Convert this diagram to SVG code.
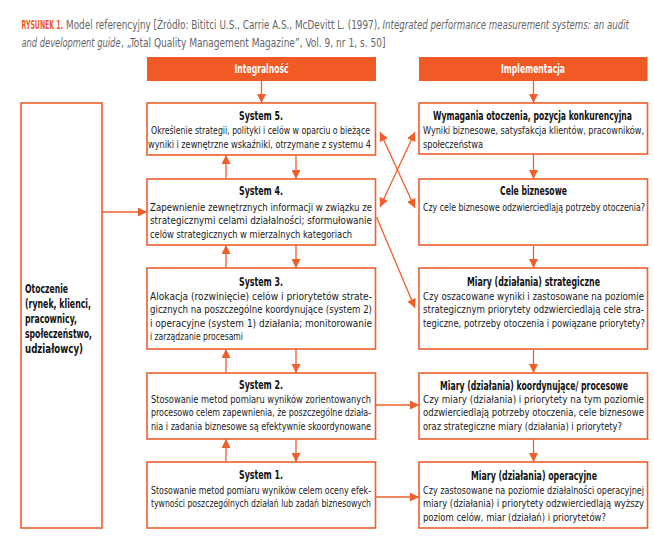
<svg xmlns="http://www.w3.org/2000/svg" width="654" height="553" viewBox="0 0 654 553">
<style>
text{font-family:"Liberation Sans Narrow","DejaVu Sans Condensed","Liberation Sans",sans-serif;}
.box{fill:#fff;stroke:#EE5F2B;stroke-width:1.6;}
.hdr{fill:#F15A24;}
.ht{fill:#fff;font-size:11.5px;font-weight:bold;text-anchor:middle;}
.t{fill:#111;font-size:12px;font-weight:bold;}
.b{fill:#1a1a1a;font-size:11px;}
.cap{fill:#666;font-size:11.5px;}
.capr{fill:#F05A28;font-size:11.5px;font-weight:bold;}
.it{font-style:italic;}
.ln{stroke:#EE5F2B;stroke-width:1.3;fill:none;}
</style>
<defs>
<marker id="ah" markerUnits="userSpaceOnUse" markerWidth="9" markerHeight="9" refX="8" refY="4" orient="auto-start-reverse" viewBox="0 0 8 8">
<path d="M0,0 L8,4 L0,8 z" fill="#EE5F2B"/>
</marker>
</defs>
<rect width="654" height="553" fill="#fff"/>

<g id="caption">
<text class="capr" x="21.5" y="29" textLength="41.5" lengthAdjust="spacingAndGlyphs">RYSUNEK 1.</text>
<text class="cap" x="66" y="29" textLength="314" lengthAdjust="spacingAndGlyphs">Model referencyjny [Źródło: Bititci U.S., Carrie A.S., McDevitt L. (1997),</text>
<text class="cap it" x="382.5" y="29" textLength="246.5" lengthAdjust="spacingAndGlyphs">Integrated performance measurement systems: an audit</text>
<text class="cap it" x="21.5" y="47" textLength="99" lengthAdjust="spacingAndGlyphs">and development guide</text>
<text class="cap" x="121" y="47" textLength="264.5" lengthAdjust="spacingAndGlyphs">, „Total Quality Management Magazine”, Vol. 9, nr 1, s. 50]</text>
</g>

<g id="hdr-integralnosc">
<rect class="hdr" x="147" y="57" width="229" height="24"/>
<text class="ht" x="261.5" y="73" textLength="54" lengthAdjust="spacingAndGlyphs">Integralność</text>
</g>
<g id="hdr-implementacja">
<rect class="hdr" x="419" y="57" width="228.5" height="24"/>
<text class="ht" x="533" y="73" textLength="64" lengthAdjust="spacingAndGlyphs">Implementacja</text>
</g>

<g id="otoczenie">
<rect class="box" x="21" y="103" width="81" height="425"/>
<text class="t" x="25" y="292.5" textLength="43" lengthAdjust="spacingAndGlyphs">Otoczenie</text>
<text class="t" x="25" y="307.5" textLength="66" lengthAdjust="spacingAndGlyphs">(rynek, klienci,</text>
<text class="t" x="25" y="322.5" textLength="52" lengthAdjust="spacingAndGlyphs">pracownicy,</text>
<text class="t" x="25" y="337.5" textLength="67" lengthAdjust="spacingAndGlyphs">społeczeństwo,</text>
<text class="t" x="25" y="352.5" textLength="58" lengthAdjust="spacingAndGlyphs">udziałowcy)</text>
</g>

<g id="system5">
<rect class="box" x="147" y="103" width="228.5" height="52"/>
<text class="t" x="239" y="119.5" textLength="44" lengthAdjust="spacingAndGlyphs">System 5.</text>
<text class="b" x="151" y="134" textLength="219" lengthAdjust="spacingAndGlyphs">Określenie strategii, polityki i celów w oparciu o bieżące</text>
<text class="b" x="148" y="147.5" textLength="223" lengthAdjust="spacingAndGlyphs">wyniki i zewnętrzne wskaźniki, otrzymane z systemu 4</text>
</g>

<g id="system4">
<rect class="box" x="147" y="179" width="228.5" height="66"/>
<text class="t" x="239" y="194.5" textLength="44" lengthAdjust="spacingAndGlyphs">System 4.</text>
<text class="b" x="150" y="211" textLength="222" lengthAdjust="spacingAndGlyphs">Zapewnienie zewnętrznych informacji w związku ze</text>
<text class="b" x="150" y="224" textLength="222" lengthAdjust="spacingAndGlyphs">strategicznymi celami działalności; sformułowanie</text>
<text class="b" x="150" y="237.5" textLength="202" lengthAdjust="spacingAndGlyphs">celów strategicznych w mierzalnych kategoriach</text>
</g>

<g id="system3">
<rect class="box" x="147" y="268" width="228.5" height="81"/>
<text class="t" x="239" y="286" textLength="44" lengthAdjust="spacingAndGlyphs">System 3.</text>
<text class="b" x="150" y="299.5" textLength="222" lengthAdjust="spacingAndGlyphs">Alokacja (rozwinięcie) celów i priorytetów strate-</text>
<text class="b" x="150" y="313" textLength="222" lengthAdjust="spacingAndGlyphs">gicznych na poszczególne koordynujące (system 2)</text>
<text class="b" x="150" y="326.5" textLength="222" lengthAdjust="spacingAndGlyphs">i operacyjne (system 1) działania; monitorowanie</text>
<text class="b" x="150" y="340" textLength="93" lengthAdjust="spacingAndGlyphs">i zarządzanie procesami</text>
</g>

<g id="system2">
<rect class="box" x="147" y="373" width="228.5" height="66"/>
<text class="t" x="239" y="388.5" textLength="44" lengthAdjust="spacingAndGlyphs">System 2.</text>
<text class="b" x="151" y="402.5" textLength="220" lengthAdjust="spacingAndGlyphs">Stosowanie metod pomiaru wyników zorientowanych</text>
<text class="b" x="151" y="416" textLength="220" lengthAdjust="spacingAndGlyphs">procesowo celem zapewnienia, że poszczególne działa-</text>
<text class="b" x="151" y="429.5" textLength="220" lengthAdjust="spacingAndGlyphs">nia i zadania biznesowe są efektywnie skoordynowane</text>
</g>

<g id="system1">
<rect class="box" x="147" y="462" width="228.5" height="66"/>
<text class="t" x="239" y="479" textLength="44" lengthAdjust="spacingAndGlyphs">System 1.</text>
<text class="b" x="151" y="493.5" textLength="220" lengthAdjust="spacingAndGlyphs">Stosowanie metod pomiaru wyników celem oceny efek-</text>
<text class="b" x="151" y="507" textLength="220" lengthAdjust="spacingAndGlyphs">tywności poszczególnych działań lub zadań biznesowych</text>
</g>

<g id="wymagania">
<rect class="box" x="419" y="103" width="228.5" height="51"/>
<text class="t" x="433" y="119.5" textLength="199" lengthAdjust="spacingAndGlyphs">Wymagania otoczenia, pozycja konkurencyjna</text>
<text class="b" x="423" y="134" textLength="221" lengthAdjust="spacingAndGlyphs">Wyniki biznesowe, satysfakcja klientów, pracowników,</text>
<text class="b" x="423" y="148" textLength="60" lengthAdjust="spacingAndGlyphs">społeczeństwa</text>
</g>

<g id="cele">
<rect class="box" x="419" y="179" width="228.5" height="66"/>
<text class="t" x="500" y="194.5" textLength="67" lengthAdjust="spacingAndGlyphs">Cele biznesowe</text>
<text class="b" x="423" y="210.5" textLength="222" lengthAdjust="spacingAndGlyphs">Czy cele biznesowe odzwierciedlają potrzeby otoczenia?</text>
</g>

<g id="miary-strategiczne">
<rect class="box" x="419" y="268" width="228.5" height="81"/>
<text class="t" x="467" y="286" textLength="133" lengthAdjust="spacingAndGlyphs">Miary (działania) strategiczne</text>
<text class="b" x="423" y="299.5" textLength="221" lengthAdjust="spacingAndGlyphs">Czy oszacowane wyniki i zastosowane na poziomie</text>
<text class="b" x="423" y="313" textLength="221" lengthAdjust="spacingAndGlyphs">strategicznym priorytety odzwierciedlają cele stra-</text>
<text class="b" x="423" y="326.5" textLength="222" lengthAdjust="spacingAndGlyphs">tegiczne, potrzeby otoczenia i powiązane priorytety?</text>
</g>

<g id="miary-koordynujace">
<rect class="box" x="419" y="373" width="228.5" height="66"/>
<text class="t" x="440" y="390" textLength="188" lengthAdjust="spacingAndGlyphs">Miary (działania) koordynujące/ procesowe</text>
<text class="b" x="423" y="402.5" textLength="221" lengthAdjust="spacingAndGlyphs">Czy miary (działania) i priorytety na tym poziomie</text>
<text class="b" x="423" y="416" textLength="221" lengthAdjust="spacingAndGlyphs">odzwierciedlają potrzeby otoczenia, cele biznesowe</text>
<text class="b" x="423" y="430" textLength="199" lengthAdjust="spacingAndGlyphs">oraz strategiczne miary (działania) i priorytety?</text>
</g>

<g id="miary-operacyjne">
<rect class="box" x="419" y="462" width="228.5" height="66"/>
<text class="t" x="471" y="479.5" textLength="126" lengthAdjust="spacingAndGlyphs">Miary (działania) operacyjne</text>
<text class="b" x="423" y="493.5" textLength="221" lengthAdjust="spacingAndGlyphs">Czy zastosowane na poziomie działalności operacyjnej</text>
<text class="b" x="423" y="507" textLength="221" lengthAdjust="spacingAndGlyphs">miary (działania) i priorytety odzwierciedlają wyższy</text>
<text class="b" x="423" y="520.5" textLength="183" lengthAdjust="spacingAndGlyphs">poziom celów, miar (działań) i priorytetów?</text>
</g>

<g id="connectors">
<line class="ln" x1="261.5" y1="81" x2="261.5" y2="103" marker-end="url(#ah)"/>
<line class="ln" x1="533.5" y1="81" x2="533.5" y2="103" marker-end="url(#ah)"/>
<line class="ln" x1="226" y1="179" x2="226" y2="155" marker-end="url(#ah)"/>
<line class="ln" x1="296" y1="155" x2="296" y2="179" marker-end="url(#ah)"/>
<line class="ln" x1="226" y1="268" x2="226" y2="245" marker-end="url(#ah)"/>
<line class="ln" x1="296" y1="245" x2="296" y2="268" marker-end="url(#ah)"/>
<line class="ln" x1="226" y1="373" x2="226" y2="349" marker-end="url(#ah)"/>
<line class="ln" x1="296" y1="349" x2="296" y2="373" marker-end="url(#ah)"/>
<line class="ln" x1="226" y1="462" x2="226" y2="439" marker-end="url(#ah)"/>
<line class="ln" x1="296" y1="439" x2="296" y2="462" marker-end="url(#ah)"/>
<line class="ln" x1="533.5" y1="154" x2="533.5" y2="179" marker-end="url(#ah)"/>
<line class="ln" x1="533.5" y1="245" x2="533.5" y2="268" marker-end="url(#ah)"/>
<line class="ln" x1="533.5" y1="349" x2="533.5" y2="373" marker-end="url(#ah)"/>
<line class="ln" x1="533.5" y1="439" x2="533.5" y2="462" marker-end="url(#ah)"/>
<line class="ln" x1="102" y1="212" x2="147" y2="212" marker-end="url(#ah)"/>
<line class="ln" x1="375.5" y1="405" x2="419" y2="405" marker-end="url(#ah)"/>
<line class="ln" x1="375.5" y1="497" x2="419" y2="497" marker-end="url(#ah)"/>
<line class="ln" x1="380" y1="132" x2="415" y2="208" marker-start="url(#ah)" marker-end="url(#ah)"/>
<line class="ln" x1="380" y1="207" x2="415" y2="132" marker-start="url(#ah)" marker-end="url(#ah)"/>
<line class="ln" x1="376.5" y1="217" x2="415" y2="308" marker-end="url(#ah)"/>
</g>
</svg>
